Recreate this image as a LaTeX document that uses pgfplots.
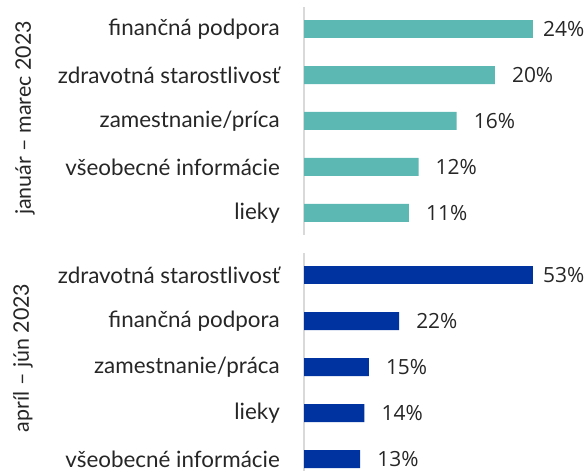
\documentclass[border=0pt]{standalone}
\usepackage{fontspec}
\setmainfont{Lato}
\newfontfamily\numfont{Open Sans}
\usepackage{pgfplots}
\pgfplotsset{compat=1.18}
\definecolor{teal1}{HTML}{5BB8B3}
\definecolor{blue1}{HTML}{0033A0}
\definecolor{txt}{HTML}{262626}
\definecolor{axgray}{HTML}{D9D9D9}
\pgfplotsset{
 mystyle/.style={
  xbar, scale only axis, width=229bp, xmin=0, clip=false,
  axis x line=none, axis y line*=left,
  y axis line style={draw=axgray, line width=1.5bp, -},
  ytick={0,1,2,3,4}, major tick length=0pt,
  yticklabel style={font=\fontsize{22.5}{26}\selectfont, text=txt, inner xsep=0pt, xshift=-24bp},
  bar width=18bp, bar shift=0pt, point meta=x,
  /pgf/number format/assume math mode=true,
  nodes near coords={\pgfmathprintnumber{\pgfplotspointmeta}\%},
  nodes near coords style={font=\numfont\fontsize{21}{24}\selectfont, text=txt, anchor=west, inner xsep=0pt},
 }
}
\begin{document}
\begin{tikzpicture}[x=1bp,y=1bp]
\useasboundingbox (0,0) rectangle (586,471);
\begin{axis}[mystyle, at={(304bp,236bp)}, anchor=south west, height=228bp,
  ymin=-0.48, ymax=4.48, xmax=24,
  yticklabels={lieky, všeobecné informácie, zamestnanie/príca, zdravotná starostlivosť, finančná podpora}]
\addplot[fill=teal1, draw=none, nodes near coords style={xshift=10bp}] coordinates {(24,4)};
\addplot[fill=teal1, draw=none, nodes near coords style={xshift=17bp}] coordinates {(20,3) (16,2) (12,1) (11,0)};
\end{axis}
\begin{axis}[mystyle, at={(304bp,0bp)}, anchor=south west, height=218bp,
  ymin=-0.26, ymax=4.48, xmax=53,
  yticklabels={všeobecné informácie, lieky, zamestnanie/práca, finančná podpora, zdravotná starostlivosť}]
\addplot[fill=blue1, draw=none, nodes near coords style={xshift=10bp}] coordinates {(53,4)};
\addplot[fill=blue1, draw=none, nodes near coords style={xshift=17bp}] coordinates {(22,3) (15,2) (14,1) (13,0)};
\end{axis}
\node[rotate=90, text=txt, font=\fontsize{21.5}{25}\selectfont] at (25,353) {január – marec 2023};
\node[rotate=90, text=txt, font=\fontsize{21.5}{25}\selectfont] at (23,113) {apríl – jún 2023};
\end{tikzpicture}
\end{document}
